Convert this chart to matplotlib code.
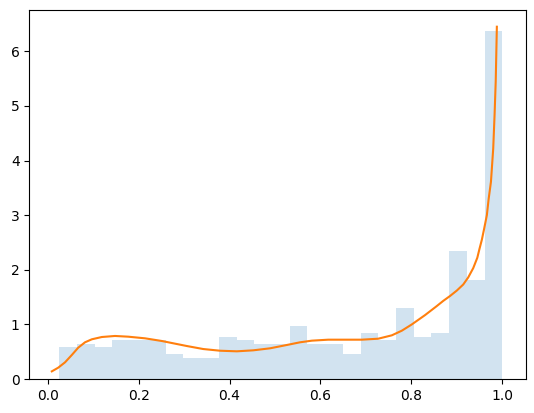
import matplotlib
matplotlib.use('Agg')
import matplotlib.pyplot as plt
import numpy as np

# histogram (density) — 25 bins between the sample min and max
bin_lo, bin_hi = 0.0255, 1.0
heights = [0.586, 0.647, 0.586, 0.72, 0.72, 0.72, 0.463, 0.39, 0.39, 0.77,
           0.714, 0.647, 0.647, 0.976, 0.647, 0.647, 0.463, 0.84, 0.72, 1.30,
           0.77, 0.84, 2.34, 1.81, 6.37]

# density curve
kde_x = [0.009, 0.023, 0.038, 0.053, 0.067, 0.082, 0.097, 0.119, 0.148, 0.177,
         0.214, 0.251, 0.276, 0.306, 0.342, 0.379, 0.416, 0.452, 0.489, 0.526,
         0.555, 0.581, 0.617, 0.654, 0.691, 0.727, 0.757, 0.779, 0.801, 0.830,
         0.855, 0.870, 0.885, 0.900, 0.914, 0.925, 0.936, 0.945, 0.950, 0.955,
         0.960, 0.966, 0.970, 0.975, 0.980, 0.983, 0.9855, 0.988]
kde_y = [0.14, 0.207, 0.305, 0.44, 0.573, 0.672, 0.727, 0.769, 0.788, 0.775,
         0.745, 0.696, 0.654, 0.604, 0.549, 0.518, 0.507, 0.525, 0.562, 0.623,
         0.672, 0.702, 0.72, 0.72, 0.72, 0.738, 0.80, 0.885, 1.00, 1.17,
         1.33, 1.43, 1.52, 1.62, 1.73, 1.86, 2.03, 2.22, 2.39, 2.55,
         2.75, 3.00, 3.30, 3.61, 4.22, 4.84, 5.45, 6.45]

fig = plt.figure(figsize=(5.34, 4.13), dpi=100)
ax = fig.add_axes([0.0549, 0.0823, 0.9296, 0.8927])

edges = np.linspace(bin_lo, bin_hi, len(heights) + 1)
ax.stairs(heights, edges, fill=True, color='C0', alpha=0.2, linewidth=0)
ax.plot(kde_x, kde_y, color='C1')

ax.set_xlim(-0.0405, 1.0515)
ax.set_ylim(0, 6.75)

fig.savefig('out.png', dpi=100)
